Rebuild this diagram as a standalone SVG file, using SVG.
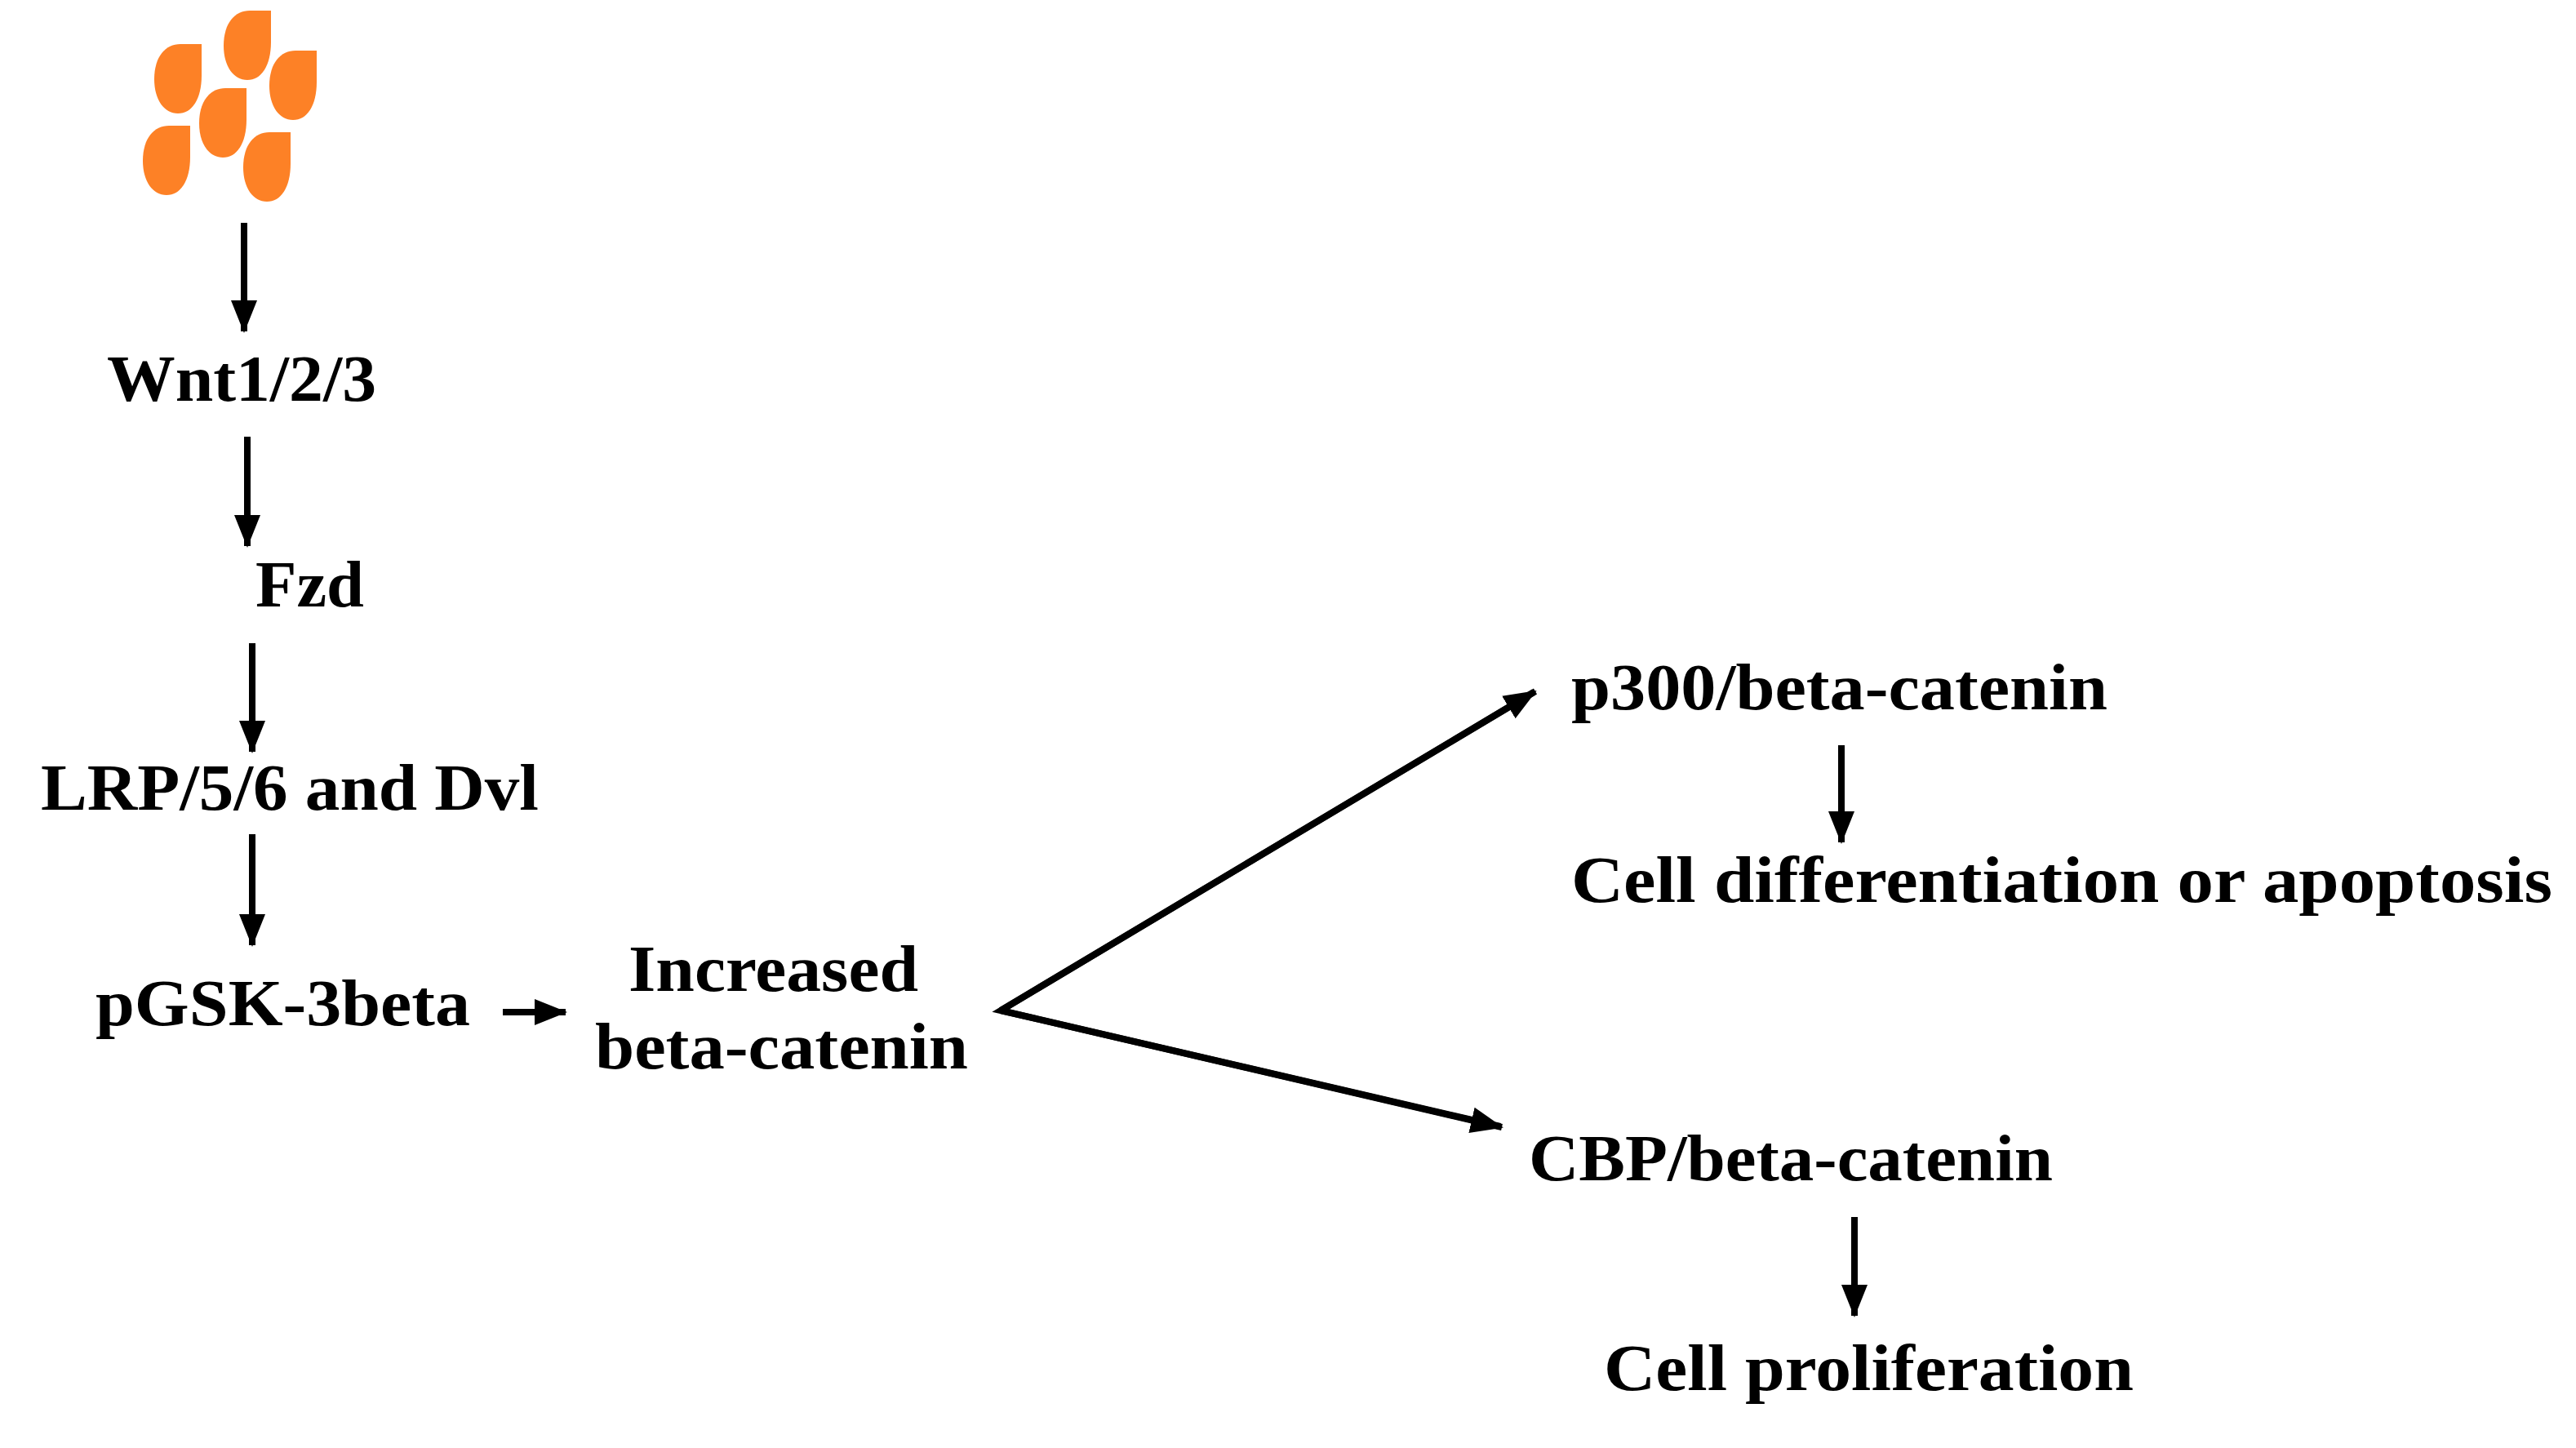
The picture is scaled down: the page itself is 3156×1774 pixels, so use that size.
<svg xmlns="http://www.w3.org/2000/svg" width="3156" height="1774" viewBox="0 0 3156 1774">
<style>
.t{font-family:"Liberation Serif","DejaVu Serif",serif;font-weight:bold;font-size:80px;fill:#000}
.c{stroke:#000;stroke-width:8;fill:none}
</style>
<defs>
<marker id="ah" markerUnits="userSpaceOnUse" markerWidth="40" markerHeight="40" viewBox="0 0 40 40" refX="38" refY="20" orient="auto"><path d="M0,4 L40,20 L0,36 Z" fill="#000"/></marker>
<path id="drop" d="M58 0 L58 38 C58 68 46 85 29 85 C12 85 0 68 0 43 C0 15 14 0 32 0 Z" fill="#fd8126"/>
</defs>
<rect width="3156" height="1774" fill="#fff"/>
<g id="ligand">
<use href="#drop" x="274" y="13"/>
<use href="#drop" x="189" y="54"/>
<use href="#drop" x="330" y="62"/>
<use href="#drop" x="244" y="108"/>
<use href="#drop" x="175" y="154"/>
<use href="#drop" x="298" y="162"/>
</g>
<g id="wnt"><text class="t" x="131" y="491" textLength="330" lengthAdjust="spacingAndGlyphs">Wnt1/2/3</text></g>
<g id="fzd"><text class="t" x="313" y="743" textLength="133" lengthAdjust="spacingAndGlyphs">Fzd</text></g>
<g id="lrp"><text class="t" x="50" y="992" textLength="610" lengthAdjust="spacingAndGlyphs">LRP/5/6 and Dvl</text></g>
<g id="pgsk"><text class="t" x="117" y="1256" textLength="459" lengthAdjust="spacingAndGlyphs">pGSK-3beta</text></g>
<g id="beta"><text class="t" x="770" y="1214" textLength="355" lengthAdjust="spacingAndGlyphs">Increased</text><text class="t" x="729" y="1309" textLength="457" lengthAdjust="spacingAndGlyphs">beta-catenin</text></g>
<g id="p300"><text class="t" x="1925" y="869" textLength="657" lengthAdjust="spacingAndGlyphs">p300/beta-catenin</text></g>
<g id="diff"><text class="t" x="1925" y="1105" textLength="1202" lengthAdjust="spacingAndGlyphs">Cell differentiation or apoptosis</text></g>
<g id="cbp"><text class="t" x="1873" y="1446" textLength="642" lengthAdjust="spacingAndGlyphs">CBP/beta-catenin</text></g>
<g id="prolif"><text class="t" x="1965" y="1703" textLength="649" lengthAdjust="spacingAndGlyphs">Cell proliferation</text></g>
<g id="connectors">
<line class="c" x1="299" y1="273" x2="299" y2="406" marker-end="url(#ah)"/>
<line class="c" x1="303" y1="535" x2="303" y2="669" marker-end="url(#ah)"/>
<line class="c" x1="309" y1="788" x2="309" y2="921" marker-end="url(#ah)"/>
<line class="c" x1="309" y1="1022" x2="309" y2="1158" marker-end="url(#ah)"/>
<line class="c" x1="616" y1="1240" x2="693" y2="1240" marker-end="url(#ah)"/>
<polyline class="c" points="1879,848 1226,1238 1838,1380" stroke-linejoin="miter"/>
<line class="c" x1="1226" y1="1238" x2="1881" y2="847" marker-end="url(#ah)"/>
<line class="c" x1="1226" y1="1238" x2="1840" y2="1381" marker-end="url(#ah)"/>
<line class="c" x1="2256" y1="913" x2="2256" y2="1032" marker-end="url(#ah)"/>
<line class="c" x1="2272" y1="1491" x2="2272" y2="1612" marker-end="url(#ah)"/>
</g>
</svg>
